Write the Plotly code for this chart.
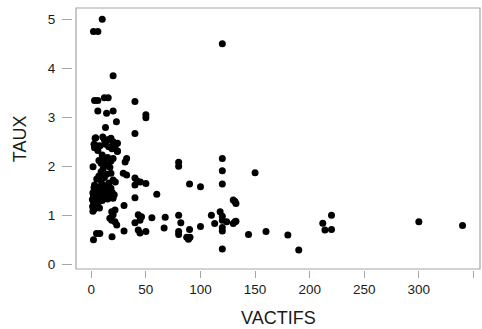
import plotly.graph_objects as go

# ---- data ----
vactifs = [
    2, 6, 10, 20, 3, 6, 12, 15.5, 40, 6, 14, 20, 50, 50, 23, 13, 40, 4, 120,
    3.5, 2.5, 3, 5, 10.5, 12, 15, 18, 20, 24, 8, 13, 16, 19, 22, 24, 10, 6, 20, 18, 12, 15,
    1.6, 9, 11, 9, 14, 17, 7, 23.8, 31, 32.4,
    7, 5, 12, 14, 18, 20, 22, 9, 3, 10, 16, 29.3, 32.4, 40, 42, 45, 50, 40,
    60, 40, 30,
    1.5, 2.5, 1.2, 3, 2, 1, 3.5, 2, 1.5, 3, 2.5,
    5.5, 7, 5, 8, 6, 8, 6, 5, 7.5,
    10, 12, 11, 13, 10, 12,
    15, 17, 19, 15, 18, 21, 20, 16,
    18.7, 20, 21.7, 17, 18.7, 21.7, 23.3, 30, 19, 2, 4.8, 7.8,
    40, 43, 46, 44.6, 55.5, 43, 44.6, 50,
    66.7, 67.7, 80, 80, 80, 82, 80, 80, 90, 100, 90, 87.4, 89, 90.4, 100,
    110, 113, 118, 120, 120, 120, 120, 120, 120, 120, 120, 124,
    130, 131.6, 132.5, 130, 131.6, 132.5, 144, 150, 160, 180, 190,
    212, 214, 220, 220, 300, 340,
]
taux = [
    4.75, 4.75, 5.0, 3.85, 3.34, 3.34, 3.40, 3.40, 3.32, 3.13, 3.08, 3.13, 3.05, 2.99, 2.91, 2.79, 2.67, 2.58, 4.50,
    2.57, 2.45, 2.38, 2.42, 2.60, 2.54, 2.54, 2.57, 2.50, 2.47, 2.42, 2.45, 2.40, 2.36, 2.42, 2.31, 2.23, 2.32, 2.16, 2.11, 2.14, 2.18,
    1.99, 2.06, 1.96, 1.89, 2.03, 1.98, 2.12, 2.30, 2.09, 2.16,
    1.80, 1.74, 1.77, 1.84, 1.86, 1.72, 1.68, 1.70, 1.62, 1.63, 1.66, 1.86, 1.82, 1.76, 1.70, 1.68, 1.65, 1.62,
    1.43, 1.36, 1.20,
    1.08, 1.12, 1.18, 1.22, 1.27, 1.32, 1.35, 1.40, 1.46, 1.50, 1.56,
    1.20, 1.28, 1.33, 1.38, 1.45, 1.50, 1.57, 1.25, 1.15,
    1.30, 1.36, 1.44, 1.50, 1.55, 1.60,
    1.33, 1.40, 1.47, 1.52, 1.55, 1.42, 1.35, 1.45,
    1.07, 1.01, 1.11, 0.94, 0.90, 0.87, 0.80, 0.68, 0.56, 0.50, 0.63, 0.63,
    0.85, 1.01, 0.97, 0.90, 0.95, 0.70, 0.64, 0.67,
    0.74, 0.96, 2.08, 2.00, 1.00, 0.85, 0.67, 0.61, 1.64, 1.58, 0.71, 0.55, 0.51, 0.55, 0.77,
    1.00, 0.83, 1.07, 0.98, 0.90, 2.16, 1.91, 1.64, 0.75, 0.68, 0.31, 0.87,
    1.31, 1.28, 1.24, 0.83, 0.87, 0.88, 0.61, 1.87, 0.67, 0.60, 0.29,
    0.84, 0.70, 1.00, 0.71, 0.87, 0.79,
]
x_ticks = [0, 50, 100, 150, 200, 250, 300, 350]
y_ticks = [0, 1, 2, 3, 4, 5]
x_title = "VACTIFS"
y_title = "TAUX"

# ---- layout geometry ----
W, H = 482, 329
L, R, T, B = 72, 2, 8, 59
pw, ph = W - L - R, H - T - B
box_left, box_bottom = 76, 269
xdom0 = (box_left - L) / pw
ydom0 = ((H - B) - box_bottom) / ph

axis_grey = "#a6a6a6"
text_col = "#1a1a1a"
font_fam = "Liberation Sans, Arial, sans-serif"

fig = go.Figure(
    go.Scatter(
        x=vactifs, y=taux, mode="markers",
        marker=dict(size=7, color="black", line=dict(width=0)),
        hoverinfo="x+y",
    )
)

fig.update_layout(
    width=W, height=H,
    margin=dict(l=L, r=R, t=T, b=B, pad=0),
    paper_bgcolor="white", plot_bgcolor="white",
    showlegend=False,
    font=dict(family=font_fam, size=13.5, color=text_col),
    xaxis=dict(
        domain=[xdom0, 1], anchor="free", position=0,
        range=[-14.0, 356.0], tickvals=x_ticks, ticktext=[str(v) for v in x_ticks],
        showgrid=False, zeroline=False, showline=False,
        ticks="outside", ticklen=7, tickwidth=1, tickcolor=axis_grey,
        tickfont=dict(size=13.5, color=text_col),
    ),
    yaxis=dict(
        domain=[ydom0, 1], anchor="free", position=0,
        range=[-0.096, 5.23], tickvals=y_ticks, ticktext=[str(v) for v in y_ticks],
        showgrid=False, zeroline=False, showline=False,
        ticks="outside", ticklen=10, tickwidth=1, tickcolor=axis_grey,
        tickfont=dict(size=13.5, color=text_col),
        ticklabelstandoff=4,
    ),
    shapes=[dict(
        type="rect", xref="x domain", yref="y domain",
        x0=0, x1=1, y0=0, y1=1,
        line=dict(color=axis_grey, width=1.2), layer="above",
    )],
    annotations=[
        dict(text=x_title, xref="x domain", yref="y domain", x=0.5, y=-0.188,
             xanchor="center", yanchor="middle", showarrow=False,
             font=dict(size=18, color=text_col, family=font_fam)),
        dict(text=y_title, xref="x domain", yref="y domain", x=-0.1394, y=0.5,
             xanchor="center", yanchor="middle", showarrow=False, textangle=-90,
             font=dict(size=18, color=text_col, family=font_fam)),
    ],
)

fig.write_html("out.html")
